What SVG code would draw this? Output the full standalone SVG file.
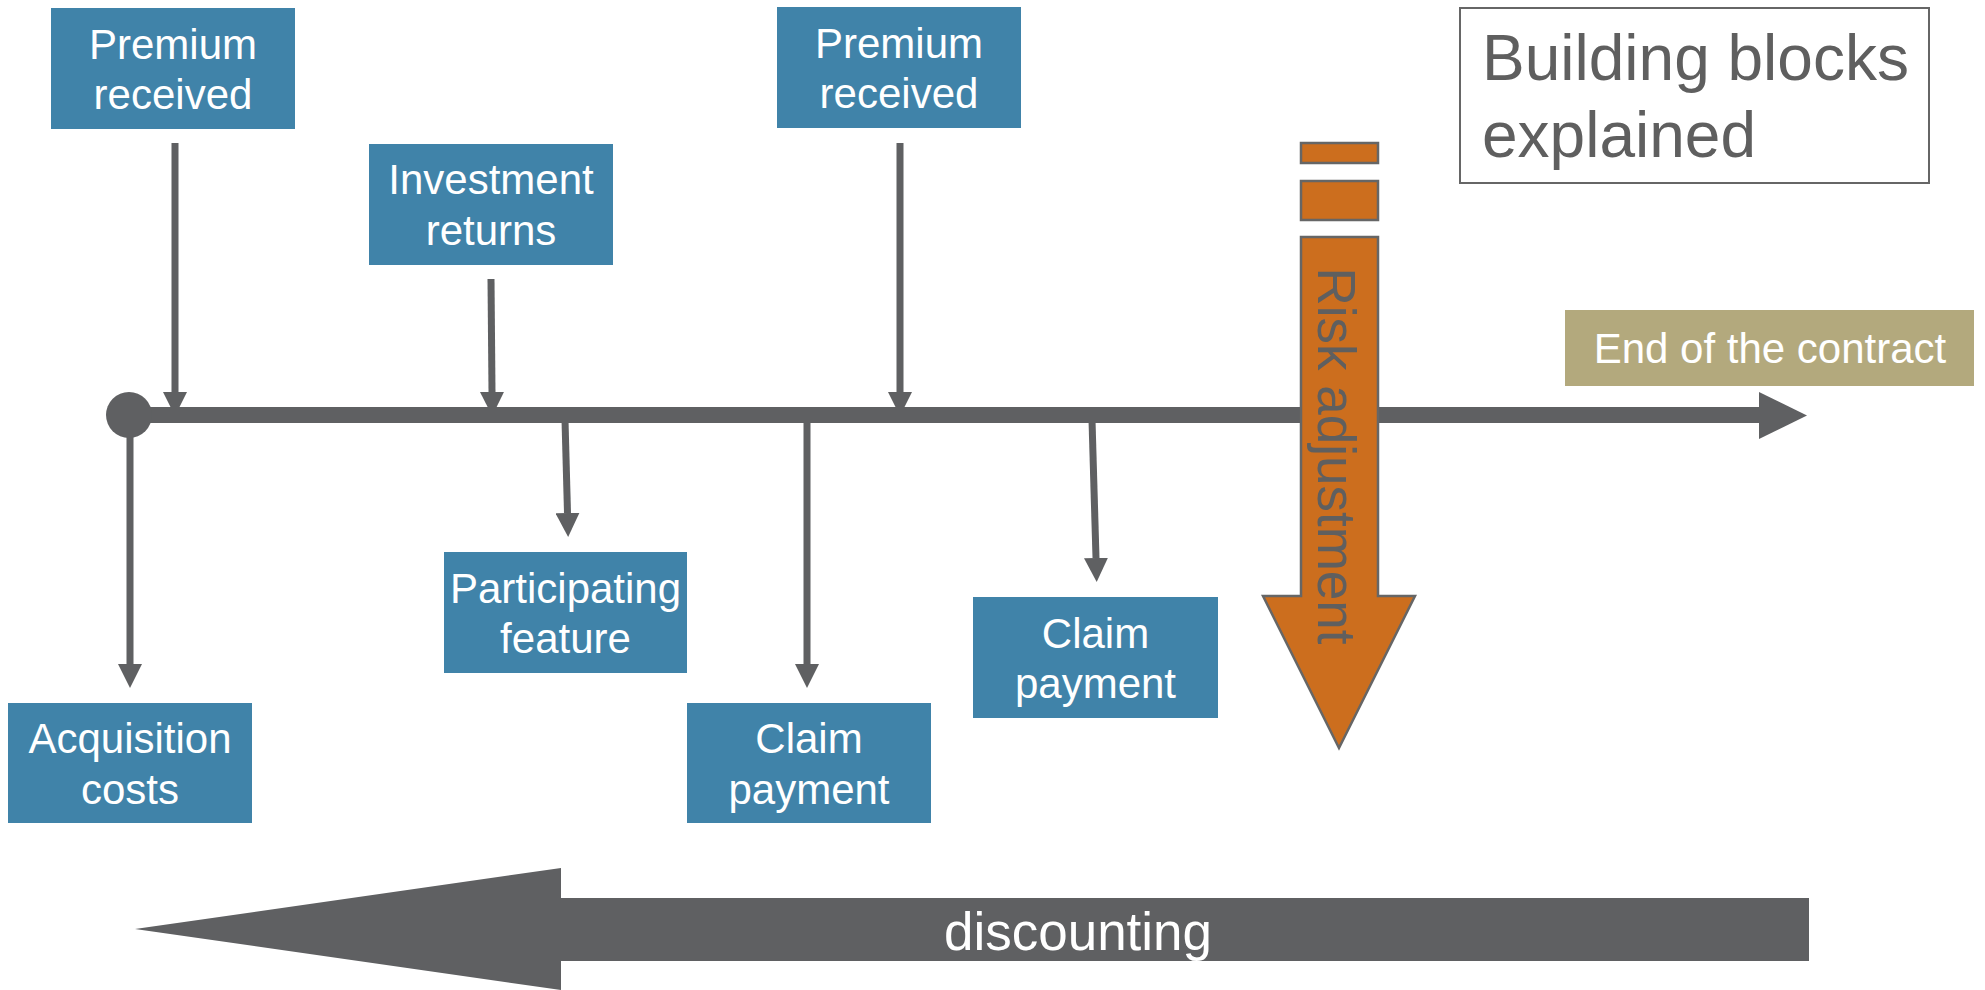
<svg xmlns="http://www.w3.org/2000/svg" width="1985" height="990" viewBox="0 0 1985 990">
<defs>
<style>
.box{fill:#4083A9}
.lbl{font-family:"Liberation Sans",Arial,sans-serif;font-size:42px;fill:#FFFFFF;text-anchor:middle}
.conn{stroke:#5F6062;stroke-width:7;fill:none}
.gray{fill:#5F6062}
</style>
<marker id="ah" markerUnits="userSpaceOnUse" markerWidth="24" markerHeight="24" refX="0" refY="11.5" orient="auto" viewBox="0 0 23 23">
<path d="M0,0 L23,11.5 L0,23 z" fill="#5F6062"/>
</marker>
</defs>
<rect width="1985" height="990" fill="#FFFFFF"/>

<g id="connectors">
<line class="conn" x1="175" y1="143" x2="175" y2="392" marker-end="url(#ah)"/>
<line class="conn" x1="491" y1="279" x2="492" y2="392" marker-end="url(#ah)"/>
<line class="conn" x1="900" y1="143" x2="900" y2="392" marker-end="url(#ah)"/>
<line class="conn" x1="130" y1="415" x2="130" y2="664" marker-end="url(#ah)"/>
<line class="conn" x1="565" y1="420" x2="567.5" y2="513" marker-end="url(#ah)"/>
<line class="conn" x1="807" y1="420" x2="807" y2="664" marker-end="url(#ah)"/>
<line class="conn" x1="1092" y1="420" x2="1096" y2="558" marker-end="url(#ah)"/>
</g>

<g id="timeline">
<rect class="gray" x="129" y="407" width="1632" height="16"/>
<polygon class="gray" points="1759,392 1807,415.5 1759,439"/>
<ellipse class="gray" cx="129" cy="415" rx="23" ry="23"/>
</g>

<g id="risk-adjustment">
<rect x="1301" y="143" width="77" height="20" fill="#CC6E1E" stroke="#666666" stroke-width="2.5"/>
<rect x="1301" y="181" width="77" height="39" fill="#CC6E1E" stroke="#666666" stroke-width="2.5"/>
<polygon points="1301,237 1378,237 1378,596 1415,596 1339,748 1263,596 1301,596" fill="#CC6E1E" stroke="#666666" stroke-width="2.5"/>
<text transform="translate(1318 456) rotate(90)" x="0" y="0" font-family="Liberation Sans, Arial, sans-serif" font-size="53" fill="#5F5F5F" text-anchor="middle">Risk adjustment</text>
</g>

<g id="premium-1">
<rect class="box" x="51" y="8" width="244" height="121"/>
<text class="lbl" x="173" y="59">Premium</text>
<text class="lbl" x="173" y="109">received</text>
</g>

<g id="investment-returns">
<rect class="box" x="369" y="144" width="244" height="121"/>
<text class="lbl" x="491" y="194">Investment</text>
<text class="lbl" x="491" y="245">returns</text>
</g>

<g id="premium-2">
<rect class="box" x="777" y="7" width="244" height="121"/>
<text class="lbl" x="899" y="58">Premium</text>
<text class="lbl" x="899" y="108">received</text>
</g>

<g id="acquisition-costs">
<rect class="box" x="8" y="703" width="244" height="120"/>
<text class="lbl" x="130" y="753">Acquisition</text>
<text class="lbl" x="130" y="804">costs</text>
</g>

<g id="participating-feature">
<rect class="box" x="444" y="552" width="243" height="121"/>
<text class="lbl" x="565.5" y="603">Participating</text>
<text class="lbl" x="565.5" y="653">feature</text>
</g>

<g id="claim-payment-1">
<rect class="box" x="687" y="703" width="244" height="120"/>
<text class="lbl" x="809" y="753">Claim</text>
<text class="lbl" x="809" y="804">payment</text>
</g>

<g id="claim-payment-2">
<rect class="box" x="973" y="597" width="245" height="121"/>
<text class="lbl" x="1095.5" y="648">Claim</text>
<text class="lbl" x="1095.5" y="698">payment</text>
</g>

<g id="end-of-contract">
<rect x="1565" y="310" width="409" height="76" fill="#B3A97D"/>
<text class="lbl" x="1770" y="363">End of the contract</text>
</g>

<g id="title">
<rect x="1460" y="8" width="469" height="175" fill="#FFFFFF" stroke="#666666" stroke-width="2"/>
<text x="1482" y="80" font-family="Liberation Sans, Arial, sans-serif" font-size="64" fill="#5F5F5F">Building blocks</text>
<text x="1482" y="157" font-family="Liberation Sans, Arial, sans-serif" font-size="64" fill="#5F5F5F">explained</text>
</g>

<g id="discounting">
<polygon class="gray" points="135,929 561,868 561,898 1809,898 1809,961 561,961 561,990"/>
<text x="1078" y="950" font-family="Liberation Sans, Arial, sans-serif" font-size="53" fill="#FFFFFF" text-anchor="middle">discounting</text>
</g>
</svg>
